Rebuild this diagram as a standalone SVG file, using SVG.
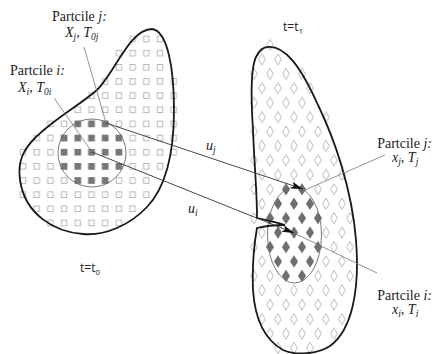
<svg xmlns="http://www.w3.org/2000/svg" width="435" height="354" viewBox="0 0 435 354">
  <style>
    .outline { fill: none; stroke: #1a1a1a; stroke-width: 1.8; }
    .zone { fill: none; stroke: #6a6a6a; stroke-width: 0.9; }
    .flow { fill: none; stroke: #333; stroke-width: 0.9; }
    .lead { fill: none; stroke: #777; stroke-width: 0.8; }
    .lbl { font-family: "Liberation Serif", "DejaVu Serif", serif; font-size: 14px; fill: #222; }
    .it { font-style: italic; }
    .sub { font-size: 9.5px; font-style: italic; }
    .time { font-family: "Open Sans", "Liberation Sans", sans-serif; font-size: 12px; fill: #222; }
    .tsub { font-size: 8px; }
    .end { text-anchor: end; }
  </style>
  <defs>
    <!-- square lattice of the body at t0 -->
    <pattern id="sq" patternUnits="userSpaceOnUse" x="16.15" y="31.925" width="13.7" height="14.15">
      <rect x="4.1" y="4.325" width="5.5" height="5.5" fill="#fff" stroke="#a8a8a8" stroke-width="0.8"/>
    </pattern>
    <pattern id="sqd" patternUnits="userSpaceOnUse" x="16.15" y="31.925" width="13.7" height="14.15">
      <rect x="3.6" y="3.825" width="6.5" height="6.5" fill="#777"/>
    </pattern>
    <!-- staggered diamond lattice of the body at t1 -->
    <pattern id="dm" patternUnits="userSpaceOnUse" x="246" y="37.785" width="16" height="28.86">
      <path d="M8,1.7 L11.4,7.2 L8,12.7 L4.6,7.2 Z M0,16.1 L3.4,21.6 L0,27.1 L-3.4,21.6 Z M16,16.1 L19.4,21.6 L16,27.1 L12.6,21.6 Z" fill="#fff" stroke="#a8a8a8" stroke-width="0.8"/>
    </pattern>
    <pattern id="dmd" patternUnits="userSpaceOnUse" x="246" y="37.785" width="16" height="28.86">
      <path d="M8,1.2 L12,7.2 L8,13.2 L4,7.2 Z M0,15.6 L4,21.6 L0,27.6 L-4,21.6 Z M16,15.6 L20,21.6 L16,27.6 L12,21.6 Z" fill="#6e6e6e"/>
    </pattern>
    <marker id="ah" markerUnits="userSpaceOnUse" markerWidth="14" markerHeight="9" refX="12" refY="4.5" orient="auto">
      <path d="M0,1 L12,4.5 L0,8 L2.5,4.5 Z" fill="#111"/>
    </marker>
  </defs>

  <!-- body at t = t0 -->
  <g id="body-t0">
    <g id="lattice-t0" fill="url(#sq)">
      <rect x="125.75" y="31.925" width="41.1" height="14.15"/>
      <rect x="112.05" y="46.075" width="54.8" height="14.15"/>
      <rect x="112.05" y="60.225" width="54.8" height="14.15"/>
      <rect x="98.35" y="74.375" width="82.2" height="14.15"/>
      <rect x="84.65" y="88.525" width="95.9" height="14.15"/>
      <rect x="70.95" y="102.675" width="109.6" height="14.15"/>
      <rect x="43.55" y="116.825" width="137" height="14.15"/>
      <rect x="29.85" y="130.975" width="150.7" height="14.15"/>
      <rect x="16.15" y="145.125" width="164.4" height="14.15"/>
      <rect x="16.15" y="159.275" width="150.7" height="14.15"/>
      <rect x="16.15" y="173.425" width="137" height="14.15"/>
      <rect x="16.15" y="187.575" width="137" height="14.15"/>
      <rect x="29.85" y="201.725" width="109.6" height="14.15"/>
      <rect x="43.55" y="215.875" width="82.2" height="14.15"/>
    </g>
    <g id="group-t0" fill="url(#sqd)">
      <rect x="70.95" y="116.825" width="41.1" height="14.15"/>
      <rect x="57.25" y="130.975" width="68.5" height="14.15"/>
      <rect x="57.25" y="145.125" width="68.5" height="14.15"/>
      <rect x="57.25" y="159.275" width="68.5" height="14.15"/>
      <rect x="70.95" y="173.425" width="41.1" height="14.15"/>
    </g>
    <circle class="zone" cx="92" cy="153" r="34"/>
    <path class="outline" d="M152,29 C168,31 174,70 174,110 C174,150 168,185 147,207 C130,225 105,236 83,234 C55,232 25,215 20,180 C17,160 25,148 35,138 C55,118 80,105 97,90 C115,72 130,29 152,29 Z"/>
  </g>

  <!-- body at t = t1 -->
  <g id="body-t1">
    <g id="lattice-t1" fill="url(#dm)">
      <rect x="262" y="37.785" width="16" height="14.43"/>
      <rect x="254" y="52.215" width="32" height="14.43"/>
      <rect x="246" y="66.645" width="64" height="14.43"/>
      <rect x="254" y="81.075" width="64" height="14.43"/>
      <rect x="246" y="95.505" width="64" height="14.43"/>
      <rect x="254" y="109.935" width="80" height="14.43"/>
      <rect x="246" y="124.365" width="80" height="14.43"/>
      <rect x="254" y="138.795" width="80" height="14.43"/>
      <rect x="246" y="153.225" width="96" height="14.43"/>
      <rect x="254" y="167.655" width="96" height="14.43"/>
      <rect x="246" y="182.085" width="96" height="14.43"/>
      <rect x="254" y="196.515" width="96" height="14.43"/>
      <rect x="246" y="210.945" width="112" height="14.43"/>
      <rect x="254" y="225.375" width="96" height="14.43"/>
      <rect x="246" y="239.805" width="112" height="14.43"/>
      <rect x="254" y="254.235" width="96" height="14.43"/>
      <rect x="246" y="268.665" width="112" height="14.43"/>
      <rect x="254" y="283.095" width="96" height="14.43"/>
      <rect x="262" y="297.525" width="80" height="14.43"/>
      <rect x="254" y="311.955" width="96" height="14.43"/>
      <rect x="262" y="326.385" width="80" height="14.43"/>
      <rect x="270" y="340.815" width="48" height="14.43"/>
    </g>
    <g id="group-t1" fill="url(#dmd)">
      <rect x="278" y="182.085" width="32" height="14.43"/>
      <rect x="270" y="196.515" width="48" height="14.43"/>
      <rect x="262" y="210.945" width="64" height="14.43"/>
      <rect x="270" y="225.375" width="48" height="14.43"/>
      <rect x="262" y="239.805" width="64" height="14.43"/>
      <rect x="270" y="254.235" width="48" height="14.43"/>
      <rect x="278" y="268.665" width="32" height="14.43"/>
    </g>
    <ellipse class="zone" cx="294.5" cy="235" rx="27" ry="48"/>
    <path class="outline" d="M268,47 C285,46 300,65 318,105 C335,140 352,190 356,240 C360,290 352,330 330,346 C318,354 296,356 283,350 C265,340 255,320 253,290 C252,265 254,245 257,228 C265,226 275,225 285,225 C275,222 265,220 257,218 C257,190 254,160 253,130 C251,100 250,70 256,57 C259,51 263,47 268,47 Z"/>
  </g>

  <!-- displacement and leader lines -->
  <g id="connectors">
    <path class="flow" d="M106,123 L303,189" marker-end="url(#ah)"/>
    <path class="flow" d="M92,152 L294,233" marker-end="url(#ah)"/>
    <path class="lead" d="M84,47 L106,123"/>
    <path class="lead" d="M54,98 L92,152"/>
    <path class="lead" d="M305,190 L385,155"/>
    <path class="lead" d="M296,234 L377,273"/>
  </g>

  <!-- labels -->
  <g id="label-j0">
    <text class="lbl" x="52" y="21">Partcile <tspan class="it">j:</tspan></text>
    <text class="lbl" x="65" y="37"><tspan class="it">X</tspan><tspan class="sub" dy="3">j</tspan><tspan dy="-3" class="it">, T</tspan><tspan class="sub" dy="3">0j</tspan></text>
  </g>
  <g id="label-i0">
    <text class="lbl" x="10" y="75">Partcile <tspan class="it">i:</tspan></text>
    <text class="lbl" x="18" y="92"><tspan class="it">X</tspan><tspan class="sub" dy="3">i</tspan><tspan dy="-3" class="it">, T</tspan><tspan class="sub" dy="3">0i</tspan></text>
  </g>
  <g id="label-j1">
    <text class="lbl end" x="432" y="148">Partcile <tspan class="it">j:</tspan></text>
    <text class="lbl" x="392" y="162"><tspan class="it">x</tspan><tspan class="sub" dy="3">j</tspan><tspan dy="-3" class="it">, T</tspan><tspan class="sub" dy="3">j</tspan></text>
  </g>
  <g id="label-i1">
    <text class="lbl end" x="432" y="300">Partcile <tspan class="it">i:</tspan></text>
    <text class="lbl" x="392" y="314"><tspan class="it">x</tspan><tspan class="sub" dy="3">i</tspan><tspan dy="-3" class="it">, T</tspan><tspan class="sub" dy="3">i</tspan></text>
  </g>
  <g id="label-u">
    <text class="lbl" x="206" y="150"><tspan class="it">u</tspan><tspan class="sub" dy="3">j</tspan></text>
    <text class="lbl" x="188" y="213"><tspan class="it">u</tspan><tspan class="sub" dy="3">i</tspan></text>
  </g>
  <g id="label-time">
    <text class="time" x="80" y="272">t=t<tspan class="tsub" dy="3">0</tspan></text>
    <text class="time" x="283" y="31">t=t<tspan class="tsub" dy="3">1</tspan></text>
  </g>
</svg>
